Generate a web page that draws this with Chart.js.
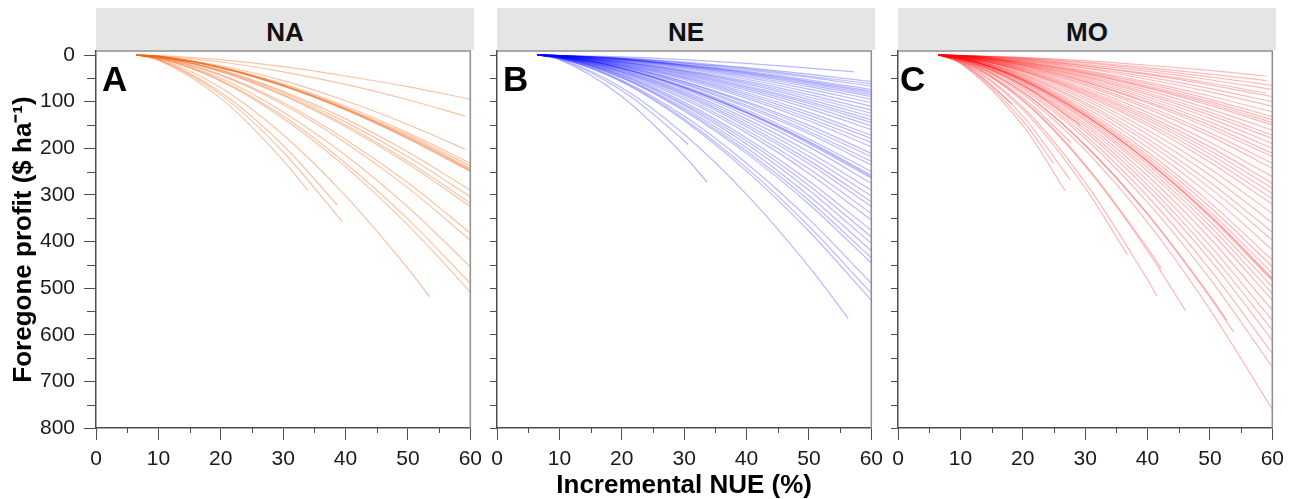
<!DOCTYPE html>
<html>
<head>
<meta charset="utf-8">
<script src="https://cdn.jsdelivr.net/npm/chart.js@4"></script>
<style>
  body { margin: 0; background: #fff; width: 1301px; height: 499px; overflow: hidden; position: relative;
         font-family: "Liberation Sans", Arial, sans-serif; }
  canvas { position: absolute; top: 0; }
  .strip { position: absolute; top: 8px; height: 42px; background: #e5e5e5; text-align: center;
           font-weight: bold; font-size: 26px; line-height: 48px; color: #111; }
  .tag { position: absolute; top: 61px; font-weight: bold; font-size: 35px; line-height: 35px; color: #000; z-index: 2; }
</style>
</head>
<body>
<div class="strip" style="left:96px;width:378px">NA</div>
<div class="strip" style="left:497px;width:378px">NE</div>
<div class="strip" style="left:898px;width:378px">MO</div>

<canvas id="chartNA" width="489" height="501" style="left:0px"></canvas>
<canvas id="chartNE" width="410" height="501" style="left:480px"></canvas>
<canvas id="chartMO" width="411" height="501" style="left:880px"></canvas>

<div class="tag" style="left:102px">A</div>
<div class="tag" style="left:503px">B</div>
<div class="tag" style="left:900px">C</div>

<script>
// shared x positions (Incremental NUE, %)
const nueStart = 6.5;
const nueGrid = [10, 20, 30, 40, 50];
const xTicks = [0, 10, 20, 30, 40, 50, 60];
const yTicks = [0, 100, 200, 300, 400, 500, 600, 700, 800];
const minorX = [5, 15, 25, 35, 45, 55];
const minorY = [50, 150, 250, 350, 450, 550, 650, 750];

// NA - foregone profit ($/ha) at nueGrid, then end point of each curve
const naEndX = [60, 59.2, 59.2, 60, 60, 60, 60, 60, 60, 60, 60, 60, 60, 60, 60, 60, 60, 60, 53.5, 39.4, 38.7, 34];
const naEndY = [95, 131, 202, 232, 238, 243, 246, 248, 250, 290, 304, 318, 325, 382, 397, 454, 490, 508, 519, 356, 322, 291];
const naRows = [
  [1, 10, 25, 45, 68], [2, 15, 36, 63, 96], [3, 23, 55, 98, 149], [3, 26, 62, 110, 167],
  [3, 26, 64, 113, 171], [3, 27, 65, 115, 174], [3, 27, 66, 116, 177], [3, 27, 66, 117, 178],
  [3, 28, 67, 118, 180], [4, 32, 78, 137, 208], [4, 33, 81, 144, 218], [4, 35, 85, 150, 228],
  [4, 36, 87, 154, 233], [5, 42, 102, 181, 274], [5, 44, 106, 188, 285], [6, 50, 122, 215, 326],
  [6, 54, 131, 232, 352], [7, 56, 136, 240, 365], [8, 70, 171, 302, 458],
  [10, 85, 208], [9, 80, 194], [11, 93, 226]
];

// NE
const neEndX = [57.3,
  60, 60, 60, 60, 60, 60, 60, 60, 60, 60,
  60, 60, 60, 60, 60, 60, 60, 60, 60, 60,
  60, 60, 60, 60, 60, 60, 60, 60, 60, 60,
  60, 60, 60, 60, 60, 60, 60, 60, 60, 60,
  60, 60, 60, 60, 60, 60,
  56.3, 33.7, 30.6];
const neEndY = [36,
  57, 62, 67, 74, 78, 81, 85, 89, 95, 102,
  110, 118, 125, 132, 139, 145, 152, 160, 172, 179,
  188, 197, 211, 218, 228, 236, 250, 258, 261, 264,
  275, 290, 302, 315, 325, 340, 354, 376, 390, 404,
  420, 435, 446, 490, 511, 526,
  565, 273, 192];
const neRows = [
  [1, 4, 10, 18, 28],
  [1, 6, 15, 27, 41], [1, 7, 17, 29, 45], [1, 7, 18, 32, 48], [1, 8, 20, 35, 53], [1, 9, 21, 37, 56],
  [1, 9, 22, 38, 58], [1, 9, 23, 40, 61], [1, 10, 24, 42, 64], [1, 10, 25, 45, 68], [1, 11, 27, 48, 73],
  [1, 12, 29, 52, 79], [2, 13, 32, 56, 85], [2, 14, 34, 59, 90], [2, 15, 35, 62, 95], [2, 15, 37, 66, 100],
  [2, 16, 39, 69, 104], [2, 17, 41, 72, 109], [2, 18, 43, 76, 115], [2, 19, 46, 81, 123], [2, 20, 48, 85, 129],
  [2, 21, 50, 89, 135], [3, 22, 53, 93, 141], [3, 23, 57, 100, 151], [3, 24, 58, 103, 157], [3, 25, 61, 108, 164],
  [3, 26, 63, 112, 169], [3, 28, 67, 118, 180], [3, 28, 69, 122, 185], [3, 29, 70, 123, 187], [3, 29, 71, 125, 190],
  [4, 30, 74, 130, 197], [4, 32, 78, 137, 208], [4, 33, 81, 143, 217], [4, 35, 84, 149, 226], [4, 36, 87, 154, 233],
  [4, 37, 91, 161, 244], [5, 39, 95, 167, 254], [5, 41, 101, 178, 270], [5, 43, 105, 184, 280], [5, 44, 108, 191, 290],
  [5, 46, 113, 199, 302], [6, 48, 117, 206, 312], [6, 49, 120, 211, 320], [6, 54, 131, 232, 352], [7, 56, 137, 242, 367],
  [7, 58, 141, 249, 378],
  [8, 70, 170, 299, 454], [10, 89, 216], [9, 76, 184]
];

// MO
const moEndX = [59.1, 59.1, 60, 60, 59,
  60, 60, 60, 60, 60, 60, 60, 60, 60, 60,
  60, 60, 60, 60, 60, 60, 60, 60, 60, 60,
  60, 60, 60, 60, 60, 60, 60, 60, 60, 60,
  60, 60, 60, 60, 60, 60, 60, 60, 60, 60,
  60, 60, 60, 60,
  53.8, 52.7, 46.1, 42.2, 41.5, 36.8, 29.2, 27.8, 27.6, 26.8, 24.9, 18.3];
const moEndY = [45, 55, 65, 74, 82,
  89, 100, 110, 122, 132, 139, 145, 150, 161, 172,
  179, 190, 200, 211, 218, 232, 243, 261, 275, 286,
  297, 308, 320, 340, 360, 380, 397, 418, 440, 454,
  468, 478, 481, 484, 497, 511, 526, 547, 569, 590,
  612, 640, 669, 760,
  594, 569, 549, 458, 517, 429, 150, 189, 268, 291, 232, 105];
const moRows = [
  [1, 5, 12, 22, 33], [1, 6, 15, 27, 41], [1, 7, 17, 31, 47], [1, 8, 20, 35, 53], [1, 9, 23, 40, 60],
  [1, 10, 24, 42, 64], [1, 11, 27, 47, 72], [1, 12, 29, 52, 79], [2, 13, 33, 58, 88], [2, 15, 35, 62, 95],
  [2, 15, 37, 66, 100], [2, 16, 39, 69, 104], [2, 17, 40, 71, 108], [2, 18, 43, 76, 116], [2, 19, 46, 81, 123],
  [2, 20, 48, 85, 129], [2, 21, 51, 90, 136], [3, 22, 54, 95, 144], [3, 23, 57, 100, 151], [3, 24, 58, 103, 157],
  [3, 26, 62, 110, 167], [3, 27, 65, 115, 174], [3, 29, 70, 123, 187], [4, 30, 74, 130, 197], [4, 31, 77, 135, 205],
  [4, 33, 80, 140, 213], [4, 34, 83, 146, 221], [4, 35, 86, 151, 230], [4, 37, 91, 161, 244], [5, 40, 96, 170, 258],
  [5, 42, 102, 180, 273], [5, 44, 106, 188, 285], [5, 46, 112, 198, 300], [6, 48, 118, 208, 316], [6, 50, 122, 215, 326],
  [6, 51, 125, 221, 336], [6, 53, 128, 226, 343], [6, 53, 129, 228, 345], [6, 53, 130, 229, 348], [6, 55, 133, 235, 357],
  [7, 56, 137, 242, 367], [7, 58, 141, 249, 378], [7, 60, 147, 259, 393], [7, 63, 152, 269, 409], [8, 65, 158, 279, 424],
  [8, 67, 164, 289, 439], [8, 70, 172, 303, 460], [9, 74, 179, 316, 480], [10, 84, 204, 359, 546],
  [9, 80, 194, 342, 520], [9, 79, 193, 340, 516], [12, 98, 238, 420], [11, 96, 235, 414], [13, 112, 273, 482],
  [14, 117, 285], [8, 65], [11, 91], [15, 131], [18, 151], [17, 141], [15]
];

const fontFamily = '"Liberation Sans", Arial, sans-serif';
const axisColor = '#4d4d4d';

// top/right frame of each panel plus short minor ticks
const panelFrame = {
  id: 'panelFrame',
  afterDraw(chart, args, opts) {
    const { ctx, chartArea: a, scales: { x, y } } = chart;
    ctx.save();
    ctx.strokeStyle = '#8c8c8c';
    ctx.lineWidth = 1.5;
    ctx.beginPath();
    ctx.moveTo(a.left, a.top);
    ctx.lineTo(a.right, a.top);
    ctx.lineTo(a.right, a.bottom);
    ctx.stroke();

    ctx.strokeStyle = axisColor;
    ctx.lineWidth = 1;
    ctx.beginPath();
    minorX.forEach(v => {
      const px = Math.round(x.getPixelForValue(v)) + 0.5;
      ctx.moveTo(px, a.bottom);
      ctx.lineTo(px, a.bottom + 5);
    });
    minorY.forEach(v => {
      const py = Math.round(y.getPixelForValue(v)) + 0.5;
      ctx.moveTo(a.left, py);
      ctx.lineTo(a.left - opts.minorLen, py);
    });
    ctx.stroke();
    ctx.restore();
  }
};

function makePanel(id, endX, endY, rows, color, opt) {
  const datasets = rows.map((row, i) => ({
    data: [{ x: nueStart, y: 0 }]
      .concat(row.map((v, j) => ({ x: nueGrid[j], y: v })))
      .concat([{ x: endX[i], y: endY[i] }]),
    borderColor: color,
    borderWidth: 1.2,
    pointRadius: 0,
    fill: false,
    cubicInterpolationMode: 'monotone'
  }));

  new Chart(document.getElementById(id), {
    type: 'line',
    data: { datasets },
    plugins: [panelFrame],
    options: {
      responsive: false,
      animation: false,
      devicePixelRatio: 1,
      layout: { padding: { top: 51, right: 15, left: 0, bottom: 0 } },
      plugins: {
        legend: { display: false },
        tooltip: { enabled: false },
        panelFrame: { minorLen: opt.minorLen }
      },
      scales: {
        x: {
          type: 'linear',
          min: 0,
          max: 60,
          afterBuildTicks: s => { s.ticks = xTicks.map(v => ({ value: v })); },
          ticks: { font: { size: 21, family: fontFamily }, color: '#1a1a1a', padding: 7, maxRotation: 0, autoSkip: false },
          grid: { drawOnChartArea: false, drawTicks: true, tickLength: 12, color: axisColor },
          border: { display: true, color: axisColor, width: 1.5 },
          title: {
            display: opt.xTitle,
            text: 'Incremental NUE (%)',
            font: { size: 26, weight: 'bold', family: fontFamily },
            color: '#000',
            padding: 0
          },
          afterFit: s => { s.height = 73; }
        },
        y: {
          type: 'linear',
          reverse: true,
          min: -8.6,
          max: 800,
          afterBuildTicks: s => { s.ticks = yTicks.map(v => ({ value: v })); },
          ticks: {
            display: opt.yLabels, autoSkip: false,
            font: { size: 21, family: fontFamily }, color: '#1a1a1a', padding: 9
          },
          grid: { drawOnChartArea: false, drawTicks: true, tickLength: opt.tickLen, color: axisColor },
          border: { display: true, color: axisColor, width: 1.5 },
          title: {
            display: opt.yLabels,
            text: 'Foregone profit ($ ha\u207B\u00B9)',
            font: { size: 26, weight: 'bold', family: fontFamily },
            color: '#000',
            padding: { top: 8, bottom: 0 }
          },
          afterFit: s => { s.width = opt.yWidth; }
        }
      }
    }
  });
}

makePanel('chartNA', naEndX, naEndY, naRows, 'rgba(240, 100, 20, 0.38)',
  { yLabels: true, xTitle: false, yWidth: 96, tickLen: 12, minorLen: 9 });
makePanel('chartNE', neEndX, neEndY, neRows, 'rgba(0, 0, 255, 0.28)',
  { yLabels: false, xTitle: true, yWidth: 17, tickLen: 7, minorLen: 7 });
makePanel('chartMO', moEndX, moEndY, moRows, 'rgba(255, 0, 0, 0.28)',
  { yLabels: false, xTitle: false, yWidth: 18, tickLen: 7, minorLen: 7 });
</script>
</body>
</html>
